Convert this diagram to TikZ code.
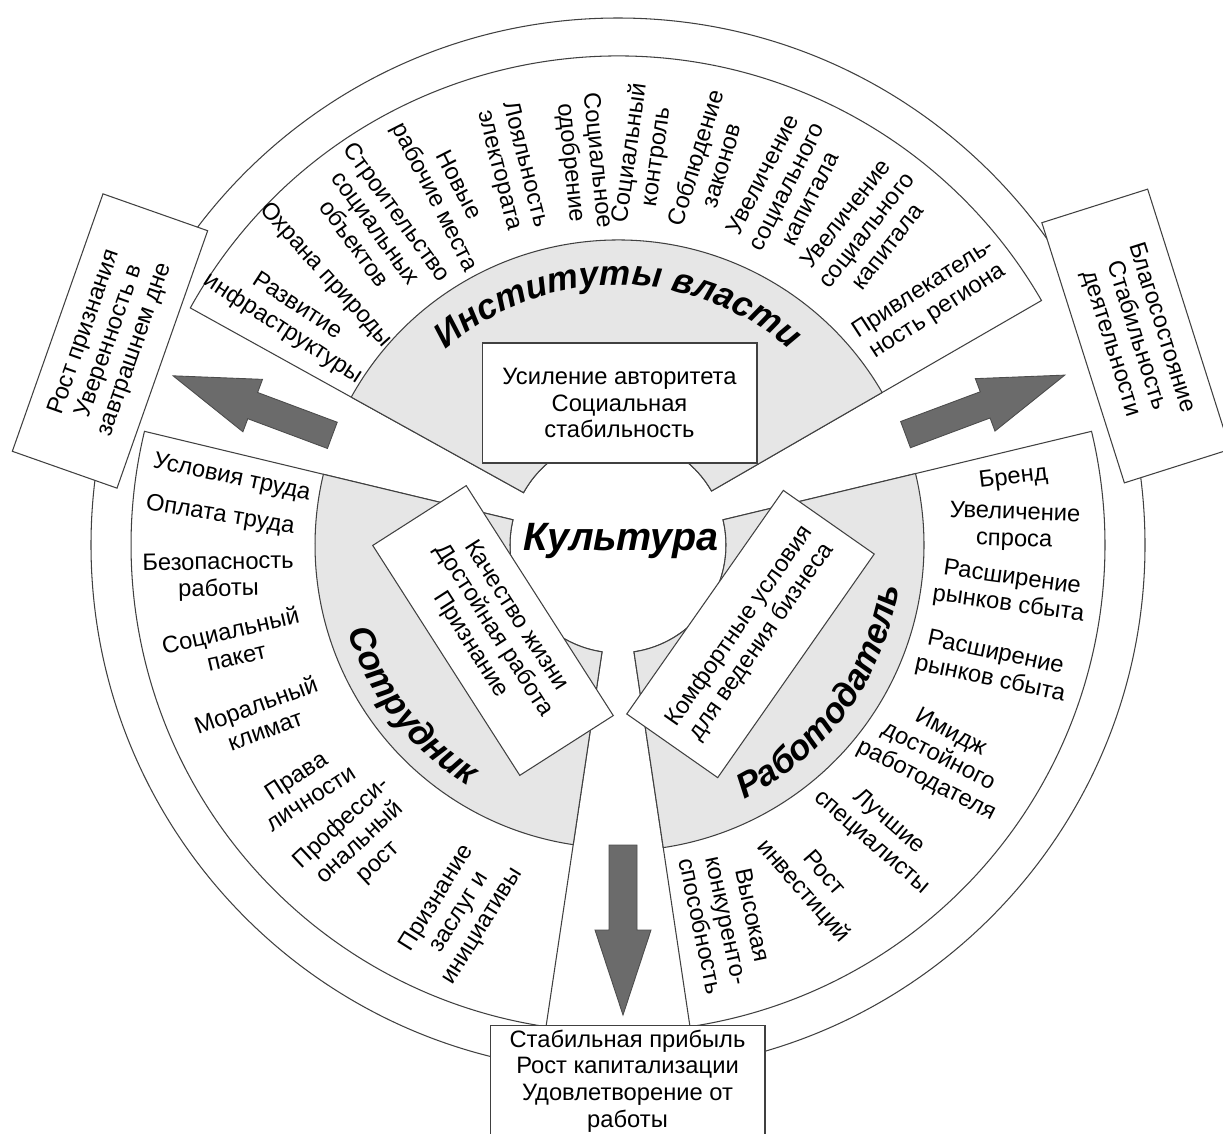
\documentclass[tikz,border=0pt]{standalone}
\usepackage{fontspec}
\setmainfont{Liberation Sans}
\usepackage{tikz}
\usetikzlibrary{decorations.text}

\definecolor{sectorfill}{HTML}{E6E6E6}
\definecolor{arrowfill}{HTML}{6B6B6B}
\definecolor{rimline}{HTML}{404040}

\newcommand{\listfont}{\fontsize{13.5}{15.2}\selectfont}
\newcommand{\titlefont}{\fontsize{20}{24}\selectfont\bfseries\itshape}
\newcommand{\centrefont}{\fontsize{22.5}{26}\selectfont\bfseries\itshape}

\tikzset{
  rim/.style={draw=rimline, line width=0.6pt},
  listwedge/.style={rim, fill=white},
  corewedge/.style={rim, fill=sectorfill},
  entry/.style={font=\listfont, align=center, inner sep=1pt},
  outcome/.style={rim, fill=white, font=\listfont, align=center,
    minimum width=5.46cm, minimum height=2.22cm, inner sep=2pt},
  sectortitle/.style={decorate, decoration={text along path, text align=center,
    text={|\titlefont|#1}}},
  blockarrow/.pic={
    \draw[fill=arrowfill, draw=black!70, line width=0.5pt]
      (0,-14) -- (85,-14) -- (85,-28) -- (170,0) -- (85,28) -- (85,14) -- (0,14) -- cycle;
  }
}

\begin{document}
\begin{tikzpicture}[x=0.02cm, y=0.02cm]
  \useasboundingbox (0,0) rectangle (1223,-1133);
  \coordinate (c) at (618,-545);

  % outer ring
  \draw[rim] (c) circle[radius=527];

  \begin{scope}[shift={(c)}]
    % sectors
    \draw[listwedge] (30:108) arc[start angle=30, end angle=151, radius=108]
      -- (151:489) arc[start angle=151, end angle=30, radius=489] -- cycle;
    \draw[corewedge] (30:108) arc[start angle=30, end angle=151, radius=108]
      -- (151:305) arc[start angle=151, end angle=30, radius=305] -- cycle;
    \draw[listwedge] (166.5:108) arc[start angle=166.5, end angle=261.5, radius=108]
      -- (261.5:487) arc[start angle=261.5, end angle=166.5, radius=487] -- cycle;
    \draw[corewedge] (166.5:108) arc[start angle=166.5, end angle=261.5, radius=108]
      -- (261.5:303) arc[start angle=261.5, end angle=166.5, radius=303] -- cycle;
    \draw[listwedge] (278.5:108) arc[start angle=278.5, end angle=373.5, radius=108]
      -- (373.5:487) arc[start angle=373.5, end angle=278.5, radius=487] -- cycle;
    \draw[corewedge] (278.5:108) arc[start angle=278.5, end angle=373.5, radius=108]
      -- (373.5:306) arc[start angle=373.5, end angle=278.5, radius=306] -- cycle;

    % sector titles
    \path[sectortitle={Институты власти}] (140:260) arc[start angle=140, end angle=40, radius=260];
    \path[sectortitle={Сотрудник}] (168:284) arc[start angle=168, end angle=268, radius=284];
    \path[sectortitle={Работодатель}] (-86:284) arc[start angle=-86, end angle=14, radius=284];

    % authorities
    \node[entry, rotate=-33] (infra) at (145.3:399) {Развитие\\инфраструктуры};
    \node[entry, rotate=-48] (nature) at (137.3:398) {Охрана природы};
    \node[entry, rotate=-54] (building) at (127.3:399) {Строительство\\социальных\\объектов};
    \node[entry, rotate=-63] (jobs) at (116.0:393) {Новые\\рабочие места};
    \node[entry, rotate=-76] (loyalty) at (105.7:392) {Лояльность\\электората};
    \node[entry, rotate=-84] (approval) at (95.2:385) {Социальное\\одобрение};
    \node[entry, rotate=82] (control) at (86.3:391) {Социальный\\контроль};
    \node[entry, rotate=73] (laws) at (76.8:394) {Соблюдение\\законов};
    \node[entry, rotate=63] (capitalA) at (64.9:396) {Увеличение\\социального\\капитала};
    \node[entry, rotate=52] (capitalB) at (51.8:401) {Увеличение\\социального\\капитала};
    \node[entry, rotate=33] (region) at (38.0:397) {Привлекатель-\\ность региона};

    % employee
    \node[entry, rotate=-12] (conditions) at (170.2:392) {Условия труда};
    \node[entry, rotate=-9] (pay) at (175.8:399) {Оплата труда};
    \node[entry, rotate=1] (safety) at (184.6:401) {Безопасность\\работы};
    \node[entry, rotate=13] (package) at (194.3:397) {Социальный\\пакет};
    \node[entry, rotate=20] (climate) at (205.7:397) {Моральный\\климат};
    \node[entry, rotate=33] (rights) at (217.5:397) {Права\\личности};
    \node[entry, rotate=43] (growth) at (229.1:394) {Професси-\\ональный\\рост};
    \node[entry, rotate=58] (merit) at (246.7:400) {Признание\\заслуг и\\инициативы};

    % employer
    \node[entry, rotate=7] (brand) at (9.6:401) {Бренд};
    \node[entry, rotate=-2] (demand) at (2.6:397) {Увеличение\\спроса};
    \node[entry, rotate=-8] (marketsA) at (-6.8:395) {Расширение\\рынков сбыта};
    \node[entry, rotate=-12] (marketsB) at (-18.0:394) {Расширение\\рынков сбыта};
    \node[entry, rotate=-27] (image) at (-33.5:384) {Имидж\\достойного\\работодателя};
    \node[entry, rotate=-41] (experts) at (-47.6:389) {Лучшие\\специалисты};
    \node[entry, rotate=-49] (invest) at (-60.0:390) {Рост\\инвестиций};
    \node[entry, rotate=-78] (compete) at (-73.8:391) {Высокая\\конкуренто-\\способность};

    % outward arrows
    \pic[rotate=159.5] (arrowleft) at (159:306) {blockarrow};
    \pic[rotate=20.5] (arrowright) at (21:308) {blockarrow};
  \end{scope}
  \pic[rotate=-90] (arrowdown) at (623,-845) {blockarrow};

  \node[font=\centrefont] (culture) at (621,-541) {Культура};

  \node[outcome, minimum width=5.5cm, minimum height=2.4cm] (authority) at (619.5,-403)
    {Усиление авторитета\\Социальная\\стабильность};
  \node[outcome, rotate=-57.4] (quality) at (493,-630.5) {Качество жизни\\Достойная работа\\Признание};
  \node[outcome, rotate=55] (comfort) at (750.5,-634) {Комфортные условия\\для ведения бизнеса};
  \node[outcome, rotate=70.6] (confidence) at (110,-341) {Рост признания\\Уверенность в\\завтрашнем дне};
  \node[outcome, rotate=-72.4] (welfare) at (1136,-336) {Благосостояние\\Стабильность\\деятельности};
  \node[outcome, minimum width=5.5cm, minimum height=2.24cm] (profit) at (627.5,-1081)
    {Стабильная прибыль\\Рост капитализации\\Удовлетворение от\\работы};
\end{tikzpicture}
\end{document}
